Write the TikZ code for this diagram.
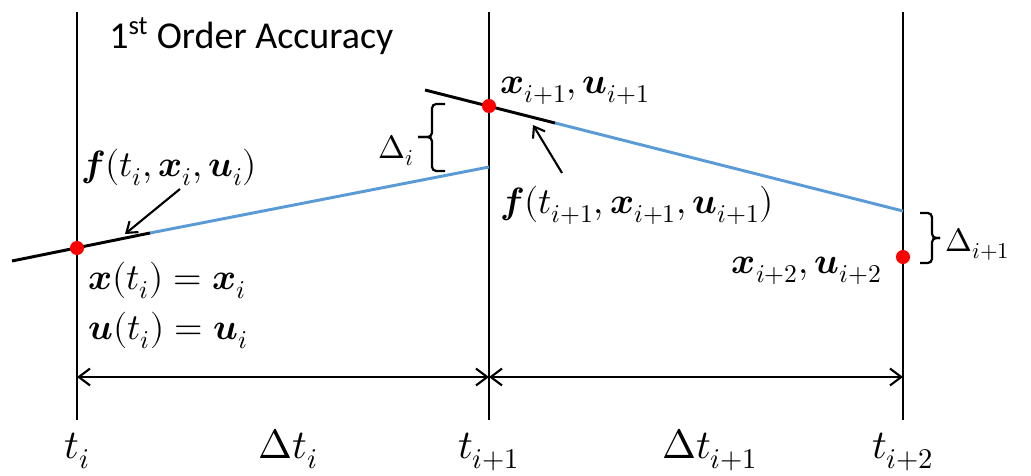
\documentclass[tikz,border=0pt]{standalone}
\usepackage{amsmath}
\usepackage{fontspec}
\usepackage{unicode-math}
\setmathfont{Latin Modern Math}
\newfontfamily\calibri{Carlito}
\usetikzlibrary{arrows.meta}
\definecolor{lineblue}{RGB}{91,155,213}
\newcommand{\bv}[1]{\symbfit{#1}}

\begin{document}
\begin{tikzpicture}[x=0.025cm,y=-0.025cm,
    timeline/.style={line width=2.1pt},
    slope/.style={line width=2.1pt},
    guess/.style={line width=2.1pt,color=lineblue},
    ptdot/.style={circle,fill=red,inner sep=0pt,minimum size=10pt},
    pointer/.style={line width=1.5pt,-{Straight Barb[length=7pt,width=10pt]}},
    dimline/.style={line width=1.5pt,{Straight Barb[length=8pt,width=12pt]}-{Straight Barb[length=8pt,width=12pt]}},
    bracket/.style={line width=1.6pt,rounded corners=3pt},
    lbl/.style={font=\fontsize{26}{30}\selectfont,inner sep=0pt},
    dlbl/.style={font=\fontsize{23}{27}\selectfont,inner sep=0pt},
    tlbl/.style={font=\fontsize{29}{34}\selectfont,inner sep=0pt,anchor=base}]
\useasboundingbox (0,0) rectangle (1031,475);

      % time grid
      \foreach \x in {77,489,903}
         \draw[timeline] (\x,12) -- (\x,420);

      \coordinate (a0) at (12,261);
      \coordinate (a1) at (150,233);
      \coordinate (a2) at (489,167);
      \coordinate (b0) at (425,90);
      \coordinate (b1) at (555,123);
      \coordinate (b2) at (903,211);

      \draw[guess] (a1) -- (a2);
      \draw[guess] (b1) -- (b2);
      \draw[slope] (a0) -- (a1);
      \draw[slope] (b0) -- (b1);

   \node[ptdot] (p0) at (77,248) {};
   \node[ptdot] (p1) at (489,106) {};
   \node[ptdot] (p2) at (903,257) {};

   \node[font=\calibri\fontsize{27}{32}\selectfont,anchor=base west,inner sep=0pt] (title) at (109,48) {1\textsuperscript{st} Order Accuracy};

   \node[lbl,anchor=base west] (f0) at (81,176) {$\bv{f}(t_i,\bv{x}_i,\bv{u}_i)$};
   \node[lbl,anchor=base west] (x0) at (88,289) {$\bv{x}(t_i)=\bv{x}_i$};
   \node[lbl,anchor=base west] (u0) at (88,339) {$\bv{u}(t_i)=\bv{u}_i$};
   \node[lbl,anchor=base west] (x1) at (500,93) {$\bv{x}_{i+1},\bv{u}_{i+1}$};
   \node[lbl,anchor=base west] (f1) at (500,213) {$\bv{f}(t_{i+1},\bv{x}_{i+1},\bv{u}_{i+1})$};
   \node[lbl,anchor=base east] (x2) at (882,273) {$\bv{x}_{i+2},\bv{u}_{i+2}$};

      % pointers to the slopes
      \coordinate (f0tail) at (180,189);
      \coordinate (f0tip) at (125,234);
      \coordinate (f1tail) at (562,173);
      \coordinate (f1tip) at (533,125);
      \draw[pointer] (f0tail) -- (f0tip);
      \draw[pointer] (f1tail) -- (f1tip);

      % errors
      \draw[bracket] (445,104) -- (432,104) -- (432,137) -- (418,137);
      \draw[bracket] (418,137) -- (432,137) -- (432,171) -- (445,171);
      \draw[bracket] (920,213) -- (932,213) -- (932,238) -- (940,238);
      \draw[bracket] (940,238) -- (932,238) -- (932,263) -- (920,263);
   \node[dlbl,anchor=base east] (d0) at (414,158) {$\Delta_i$};
   \node[dlbl,anchor=base west] (d1) at (945,251) {$\Delta_{i+1}$};

      % step widths
      \coordinate (s0) at (77,377);
      \coordinate (s1) at (489,377);
      \coordinate (s2) at (903,377);
      \draw[dimline] (s0) -- (s1);
      \draw[dimline] (s1) -- (s2);

   \node[tlbl] (t0) at (77,458) {$t_i$};
   \node[tlbl] (dt0) at (288,458) {$\Delta t_i$};
   \node[tlbl] (t1) at (489,458) {$t_{i+1}$};
   \node[tlbl] (dt1) at (710,458) {$\Delta t_{i+1}$};
   \node[tlbl] (t2) at (903,458) {$t_{i+2}$};

\end{tikzpicture}
\end{document}
